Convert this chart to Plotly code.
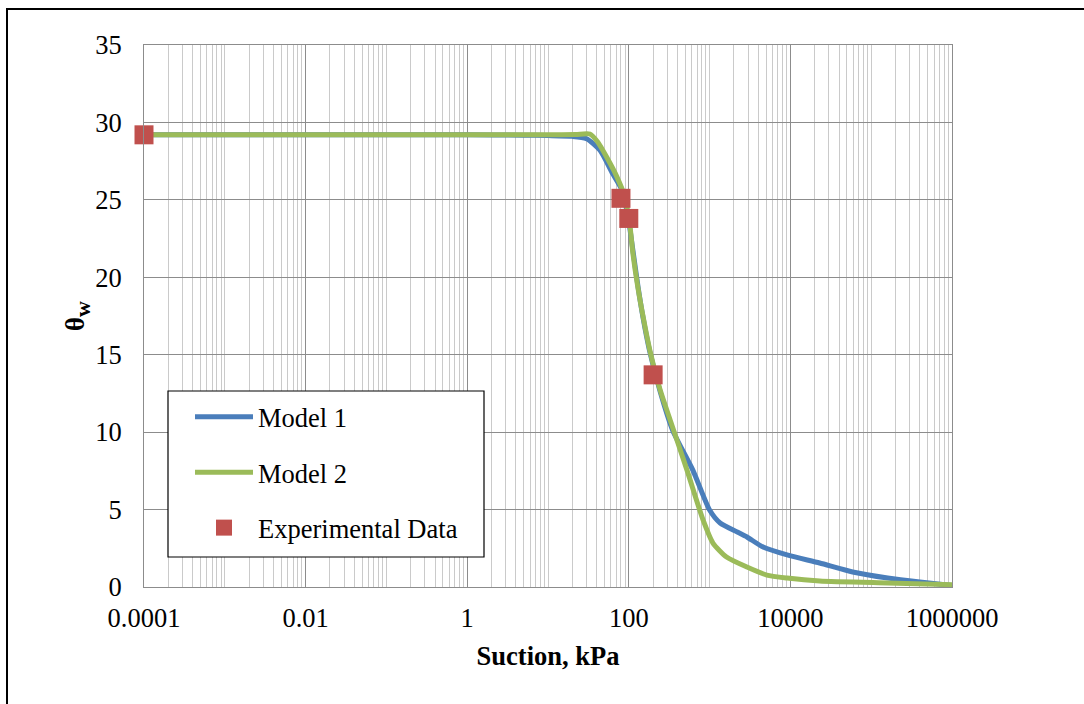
import plotly.graph_objects as go

# Soil-water characteristic curves: volumetric water content vs. suction
model1_suction = [0.0001, 0.001, 0.01, 0.1, 1, 5, 10, 20, 30, 44, 63, 83, 100, 112, 130,
                  150, 180, 245, 350, 620, 1000, 1350, 2200, 2900, 4600, 9100, 23000,
                  59000, 160000, 400000, 1000000]
model1_theta = [29.2, 29.2, 29.2, 29.2, 29.2, 29.18, 29.15, 29.1, 28.95, 28.2, 26.7, 25.6,
                23.6, 21.8, 19.4, 17.4, 15.3, 12.6, 10.1, 7.55, 4.97, 4.13, 3.55, 3.23,
                2.58, 2.07, 1.55, 0.97, 0.58, 0.32, 0.1]

model2_suction = [0.0001, 0.001, 0.01, 0.1, 1, 5, 10, 22, 33, 41, 54, 71, 89, 104, 112,
                  129, 151, 182, 245, 324, 525, 830, 1100, 1620, 2900, 5100, 9100,
                  23000, 160000, 1000000]
model2_theta = [29.2, 29.2, 29.2, 29.2, 29.2, 29.2, 29.2, 29.22, 29.25, 28.75, 27.7, 26.5,
                25.2, 23.2, 21.6, 19.4, 17.4, 15.3, 12.7, 10.8, 7.55, 4.33, 2.84, 1.94,
                1.29, 0.77, 0.58, 0.39, 0.26, 0.15]

exp_suction = [0.0001, 80, 100, 200]
exp_theta = [29.2, 25.1, 23.8, 13.7]

x_tick_vals = [0.0001, 0.01, 1, 100, 10000, 1000000]
x_tick_text = ["0.0001", "0.01", "1", "100", "10000", "1000000"]

FONT = "Liberation Serif, Times New Roman, serif"
FS = 26.5
MAJOR_GRID = "#8c8c8c"
MINOR_GRID = "#cacaca"

# plot area in pixels: x 144..952, y 45..587
PL, PR, PT, PB = 144, 952, 45, 587
PW, PH = PR - PL, PB - PT


def px_x(v):
    return (v - PL) / PW


def px_y(v):
    return (PB - v) / PH


minor_vals = [m * 10.0 ** k for k in range(-4, 6) for m in range(1, 10)] + [1000000]

fig = go.Figure()
fig.add_trace(go.Scatter(
    x=model1_suction, y=model1_theta, mode="lines", name="Model 1",
    line=dict(color="#4a7ebb", width=5, shape="spline", smoothing=0.6),
    legendgroup="a"))
fig.add_trace(go.Scatter(
    x=model2_suction, y=model2_theta, mode="lines", name="Model 2",
    line=dict(color="#9bbb59", width=5, shape="spline", smoothing=0.6),
    legendgroup="b"))
fig.add_trace(go.Scatter(
    x=exp_suction, y=exp_theta, mode="markers", name="Experimental Data",
    marker=dict(symbol="square", size=19, color="#c0504d"),
    cliponaxis=False, legendgroup="c"))

fig.update_layout(
    width=1084, height=704,
    margin=dict(l=PL, r=1084 - PR, t=PT, b=704 - PB),
    paper_bgcolor="white", plot_bgcolor="white",
    font=dict(family=FONT, size=FS, color="black"),
    showlegend=True,
    legend=dict(
        x=px_x(190), y=px_y(393), xanchor="left", yanchor="top",
        bgcolor="rgba(0,0,0,0)", borderwidth=0,
        font=dict(family=FONT, size=FS, color="black"),
        tracegroupgap=18, itemwidth=58,
    ),
    xaxis=dict(
        type="log", range=[-4, 6],
        tickmode="array", tickvals=x_tick_vals, ticktext=x_tick_text,
        showgrid=True, gridcolor=MAJOR_GRID, gridwidth=1,
        showline=True, linecolor=MAJOR_GRID, linewidth=1, mirror=True,
        ticks="", ticklabelstandoff=7,
        minor=dict(tickmode="array", tickvals=minor_vals, showgrid=True,
                   gridcolor=MINOR_GRID, gridwidth=1, ticks=""),
        title=dict(text="<b>Suction, kPa</b>", font=dict(family=FONT, size=FS), standoff=14),
        zeroline=False,
    ),
    yaxis=dict(
        range=[0, 35], dtick=5, tick0=0,
        showgrid=True, gridcolor=MAJOR_GRID, gridwidth=1,
        showline=True, linecolor=MAJOR_GRID, linewidth=1, mirror=True,
        ticks="", ticklabelstandoff=16,
        title=dict(text="<b>θ<sub><span style='font-size:22px'>w</span></sub></b>",
                   font=dict(family=FONT, size=FS), standoff=2),
        zeroline=False,
    ),
)

# legend box
fig.add_shape(type="rect", xref="paper", yref="paper",
              x0=px_x(168), x1=px_x(484), y0=px_y(557), y1=px_y(391),
              line=dict(color="black", width=1.2), fillcolor="white", layer="above")

# outer chart frame
fig.add_shape(type="rect", xref="paper", yref="paper",
              x0=px_x(7), x1=px_x(1100), y0=px_y(720), y1=px_y(9),
              line=dict(color="black", width=2), layer="below")

fig.write_html("out.html")
